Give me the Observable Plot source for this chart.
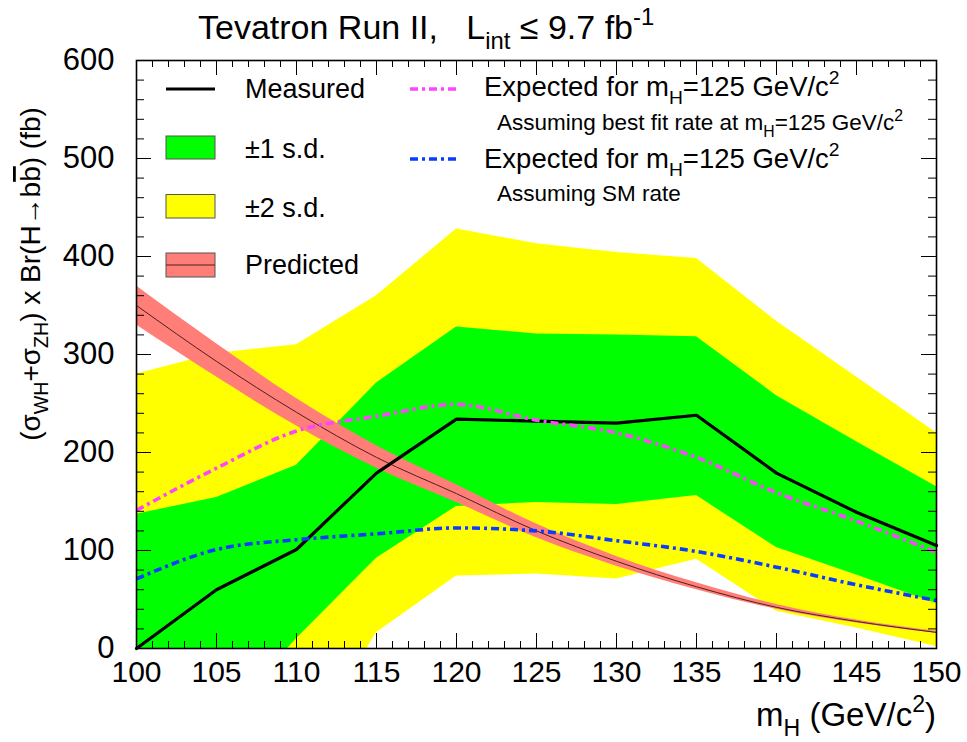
<!DOCTYPE html>
<html><head><meta charset="utf-8">
<script src="https://cdn.jsdelivr.net/npm/d3@7"></script>
<script src="https://cdn.jsdelivr.net/npm/@observablehq/plot@0.6"></script>
<style>
body{margin:0;background:#fff}
svg{font-family:"Liberation Sans",Arial,Helvetica,sans-serif}
</style>
</head><body><div id="chart"></div>
<script>
// ---- data ----
const mass        = [100, 105, 110, 115, 120, 125, 130, 135, 140, 145, 150];
const measured    = [0,   60,  101, 179, 234, 232, 230, 238, 179, 139, 105];
const sd1Low      = [-150,-81, 10,  92,  145, 149, 147, 156, 103, 75,  46];
const sd1High     = [137, 154, 187, 271, 328, 321, 320, 318, 258, 211, 165];
const sd2Low      = [-250,-190,-117,16,  74,  76,  71,  91,  38,  21,  2];
const sd2High     = [280, 301, 310, 360, 428, 413, 404, 398, 334, 277, 220];
const predicted   = [350, 293, 241, 195, 158, 120, 89,  63,  42,  27.6,16.4];
const predLow     = [330, 277, 227, 184, 149, 113, 84,  60,  40,  26,  15.5];
const predHigh    = [370, 311, 255, 207, 167, 127, 94,  67,  45,  29,  17.5];
const expBestFit  = [141, 184, 222, 237, 249, 233, 220, 195, 159, 130, 98];
const expSM       = [71,  101, 111, 117, 123, 120, 110, 99,  83,  65,  49];
const xTickLabels = [100, 105, 110, 115, 120, 125, 130, 135, 140, 145, 150];
const yTickLabels = [0, 100, 200, 300, 400, 500, 600];

const rows = mass.map((m, i) => ({
  m, measured: measured[i], sd1Low: sd1Low[i], sd1High: sd1High[i],
  sd2Low: sd2Low[i], sd2High: sd2High[i], predicted: predicted[i],
  predLow: predLow[i], predHigh: predHigh[i], expBestFit: expBestFit[i], expSM: expSM[i]
}));

const W = 967, H = 742;
const mL = 136, mR = 31, mT = 60, mB = 94;
const frameH = H - mT - mB, frameW = W - mL - mR;
const xMinor = d3.range(100, 151, 1);
const yMinor = d3.range(0, 601, 20);

const GREEN = "#00ff00", YELLOW = "#ffff00", RED = "#ff7f78",
      MAGENTA = "#ff44ff", BLUE = "#0a3cff";
const DASH = "8,4,3,4";

const chart = Plot.plot({
  width: W, height: H,
  marginLeft: mL, marginRight: mR, marginTop: mT, marginBottom: mB,
  style: {background: "white", fontFamily: '"Liberation Sans",Arial,sans-serif', color: "black"},
  x: {domain: [100, 150], label: null},
  y: {domain: [0, 600], label: null},
  marks: [
    Plot.areaY(rows, {x: "m", y1: "sd2Low", y2: "sd2High", fill: YELLOW, clip: true}),
    Plot.areaY(rows, {x: "m", y1: "sd1Low", y2: "sd1High", fill: GREEN, clip: true}),
    Plot.areaY(rows, {x: "m", y1: "predLow", y2: "predHigh", fill: RED, curve: "monotone-x", clip: true}),
    Plot.line(rows, {x: "m", y: "predicted", stroke: "#4a2020", strokeWidth: 1, curve: "monotone-x"}),
    Plot.line(rows, {x: "m", y: "measured", stroke: "black", strokeWidth: 3.2, strokeLinejoin: "miter"}),
    Plot.line(rows, {x: "m", y: "expBestFit", stroke: MAGENTA, strokeWidth: 3.6, strokeDasharray: DASH, strokeLinecap: "butt", curve: "monotone-x"}),
    Plot.line(rows, {x: "m", y: "expSM", stroke: BLUE, strokeWidth: 3.6, strokeDasharray: DASH, strokeLinecap: "butt", curve: "monotone-x"}),
    // inward ticks on all four sides
    Plot.tickX(xMinor, {x: d => d, insetTop: frameH - 7, stroke: "black", strokeWidth: 1}),
    Plot.tickX(xMinor, {x: d => d, insetBottom: frameH - 7, stroke: "black", strokeWidth: 1}),
    Plot.tickX(xTickLabels, {x: d => d, insetTop: frameH - 15, stroke: "black", strokeWidth: 1}),
    Plot.tickX(xTickLabels, {x: d => d, insetBottom: frameH - 15, stroke: "black", strokeWidth: 1}),
    Plot.tickY(yMinor, {y: d => d, insetRight: frameW - 8, stroke: "black", strokeWidth: 1}),
    Plot.tickY(yMinor, {y: d => d, insetLeft: frameW - 8, stroke: "black", strokeWidth: 1}),
    Plot.tickY(yTickLabels, {y: d => d, insetRight: frameW - 15, stroke: "black", strokeWidth: 1}),
    Plot.tickY(yTickLabels, {y: d => d, insetLeft: frameW - 15, stroke: "black", strokeWidth: 1}),
    Plot.frame({stroke: "black", strokeWidth: 1.6}),
    Plot.axisX({ticks: xTickLabels, tickSize: 0, tickPadding: 12, fontSize: 30, tickFormat: d => String(d), label: null}),
    Plot.axisY({ticks: yTickLabels, tickSize: 0, tickPadding: 22, fontSize: 31, tickFormat: d => String(d), label: null})
  ]
});

document.getElementById("chart").appendChild(chart);

// ---- rich-text annotations (title, axis titles, legend) ----
const svg = d3.select(chart);
function rich(x, y, parts, size, opts = {}) {
  const t = svg.append("text").attr("x", x).attr("y", y)
    .attr("font-size", size).attr("fill", "black")
    .attr("text-anchor", opts.anchor || "start");
  if (opts.transform) t.attr("transform", opts.transform).attr("x", 0).attr("y", 0);
  let shift = 0;
  for (const p of parts) {
    const [txt, kind, deco] = p;
    const target = kind === "sub" ? size * 0.3 : kind === "sup" ? -size * 0.42 : 0;
    const ts = t.append("tspan").attr("dy", target - shift).text(txt);
    if (kind) ts.attr("font-size", size * 0.7);
    if (deco) ts.style("text-decoration", deco);
    shift = target;
  }
  return t;
}

// title
rich(198, 39, [["Tevatron Run II,   L"], ["int", "sub"], [" \u2264 9.7 fb"], ["-1", "sup"]], 34);

// y-axis title
rich(0, 0, [["(\u03C3"], ["WH", "sub"], ["+\u03C3"], ["ZH", "sub"], [") x Br(H\u2192b"], ["b", null, "overline"], [") (fb)"]], 28,
  {anchor: "middle", transform: "translate(40,274) rotate(-90)"});

// x-axis title
rich(936, 726, [["m"], ["H", "sub"], [" (GeV/c"], ["2", "sup"], [")"]], 33, {anchor: "end"});

// legend
const lg = svg.append("g");
lg.append("line").attr("x1", 166).attr("x2", 215).attr("y1", 89).attr("y2", 89)
  .attr("stroke", "black").attr("stroke-width", 3.2);
lg.append("rect").attr("x", 166).attr("y", 136).attr("width", 49).attr("height", 23)
  .attr("fill", GREEN).attr("stroke", "#555").attr("stroke-width", 1);
lg.append("rect").attr("x", 166).attr("y", 194.5).attr("width", 49).attr("height", 23.5)
  .attr("fill", YELLOW).attr("stroke", "#555").attr("stroke-width", 1);
lg.append("rect").attr("x", 166).attr("y", 253).attr("width", 49).attr("height", 24)
  .attr("fill", RED).attr("stroke", "#555").attr("stroke-width", 1);
lg.append("line").attr("x1", 166).attr("x2", 215).attr("y1", 265).attr("y2", 265)
  .attr("stroke", "#4a2020").attr("stroke-width", 1);
lg.append("line").attr("x1", 410).attr("x2", 456).attr("y1", 89).attr("y2", 89)
  .attr("stroke", MAGENTA).attr("stroke-width", 3.6).attr("stroke-dasharray", DASH);
lg.append("line").attr("x1", 410).attr("x2", 456).attr("y1", 159).attr("y2", 159)
  .attr("stroke", BLUE).attr("stroke-width", 3.6).attr("stroke-dasharray", DASH);

rich(245, 98, [["Measured"]], 27);
rich(245, 158, [["\u00B11 s.d."]], 27);
rich(245, 217, [["\u00B12 s.d."]], 27);
rich(245, 274, [["Predicted"]], 27);
rich(484, 96, [["Expected for m"], ["H", "sub"], ["=125 GeV/c"], ["2", "sup"]], 27.5);
rich(497, 130, [["Assuming best fit rate at m"], ["H", "sub"], ["=125 GeV/c"], ["2", "sup"]], 22.5);
rich(484, 168, [["Expected for m"], ["H", "sub"], ["=125 GeV/c"], ["2", "sup"]], 27.5);
rich(497, 201, [["Assuming SM rate"]], 22.5);
</script>
</body></html>
